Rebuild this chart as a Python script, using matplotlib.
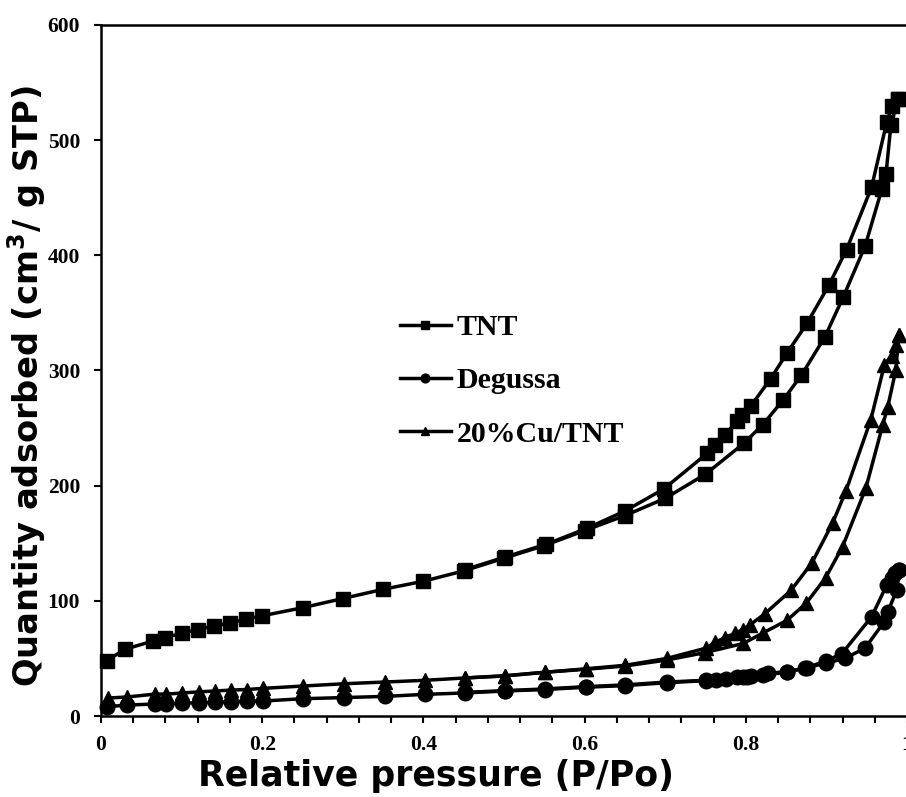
import matplotlib
matplotlib.use("Agg")
import matplotlib.pyplot as plt
from matplotlib.lines import Line2D
from matplotlib.ticker import MultipleLocator
from matplotlib.font_manager import FontProperties

# N2 adsorption-desorption isotherms
tnt_ads_p = [0.007, 0.03, 0.064, 0.08, 0.1, 0.12, 0.14, 0.16, 0.18, 0.2, 0.25, 0.3, 0.35,
             0.4, 0.45, 0.5, 0.55, 0.6, 0.65, 0.7, 0.75, 0.798, 0.821, 0.846, 0.869, 0.898,
             0.921, 0.948, 0.969, 0.974, 0.980, 0.989]
tnt_ads_q = [48, 58, 65, 68, 72, 75, 78, 81, 84, 87, 94, 102, 110, 117, 126, 137, 148, 161,
             174, 189, 210, 237, 253, 274, 296, 329, 364, 408, 458, 471, 513, 536]
tnt_des_p = [0.989, 0.982, 0.975, 0.956, 0.925, 0.903, 0.876, 0.851, 0.831, 0.806, 0.795,
             0.789, 0.774, 0.762, 0.752, 0.698, 0.65, 0.603, 0.552, 0.501, 0.451]
tnt_des_q = [536, 530, 516, 459, 405, 374, 341, 315, 293, 269, 261, 256, 244, 235, 228, 197,
             178, 163, 149, 138, 127]

deg_ads_p = [0.007, 0.032, 0.067, 0.081, 0.101, 0.122, 0.141, 0.161, 0.181, 0.201, 0.25,
             0.301, 0.352, 0.402, 0.451, 0.501, 0.551, 0.602, 0.65, 0.702, 0.751, 0.801,
             0.821, 0.851, 0.874, 0.9, 0.923, 0.948, 0.972, 0.976, 0.987, 0.99]
deg_ads_q = [8, 9.5, 10.4, 10.4, 11.3, 11.3, 12, 12.3, 13, 13, 15, 16, 17, 18.8, 20, 21.7,
             23, 25, 26.4, 28.9, 30.7, 34, 35.5, 38, 41.7, 46, 50, 59, 82, 90, 109, 127]
deg_des_p = [0.99, 0.985, 0.981, 0.975, 0.956, 0.919, 0.9, 0.876, 0.851, 0.827, 0.806,
             0.796, 0.789, 0.775, 0.763, 0.751, 0.702, 0.65, 0.602, 0.551, 0.501, 0.451]
deg_des_q = [127, 124, 120, 114, 86, 54, 48, 42, 38.5, 37, 35, 34, 33.5, 32, 31.5, 31,
             29.5, 27, 25.5, 23.5, 22, 20.5]

cu_ads_p = [0.009, 0.032, 0.067, 0.081, 0.101, 0.122, 0.141, 0.161, 0.181, 0.201, 0.25,
            0.301, 0.352, 0.402, 0.451, 0.501, 0.551, 0.602, 0.65, 0.702, 0.749, 0.797,
            0.821, 0.851, 0.875, 0.899, 0.920, 0.949, 0.970, 0.976, 0.986, 0.99]
cu_ads_q = [15.6, 16.5, 19, 19, 20, 21, 21.7, 22.5, 23, 24, 26, 28, 29.5, 31, 33, 34.7, 38,
            40.6, 43.4, 48.6, 55, 63, 72, 83, 98, 120, 147, 198, 253, 268, 300, 331]
cu_des_p = [0.99, 0.986, 0.981, 0.972, 0.955, 0.924, 0.908, 0.882, 0.856, 0.824, 0.805,
            0.796, 0.787, 0.774, 0.762, 0.751, 0.702, 0.65, 0.602, 0.551, 0.501, 0.451]
cu_des_q = [331, 322, 313, 305, 257, 195, 168, 133, 109, 89, 79, 75, 72, 68, 64, 59, 50,
            44, 41, 38, 35, 33]

labels = ["TNT", "Degussa", "20%Cu/TNT"]
markers = ["s", "o", "^"]
msizes = [10, 10.5, 9.5]

x_ticks = [0, 0.2, 0.4, 0.6, 0.8, 1.0]
x_ticklabels = ["0", "0.2", "0.4", "0.6", "0.8", "1"]
y_ticks = [0, 100, 200, 300, 400, 500, 600]
y_ticklabels = ["0", "100", "200", "300", "400", "500", "600"]

serif_bold = dict(family="Liberation Serif", weight="bold")

fig = plt.figure(figsize=(9.06, 7.97), dpi=100)
ax = fig.add_axes([101 / 906, 1 - 716 / 797, 806 / 906, (716 - 25) / 797])

series = [
    (tnt_ads_p, tnt_ads_q, tnt_des_p, tnt_des_q),
    (deg_ads_p, deg_ads_q, deg_des_p, deg_des_q),
    (cu_ads_p, cu_ads_q, cu_des_p, cu_des_q),
]
for (ap, aq, dp, dq), m, ms in zip(series, markers, msizes):
    for p, q in ((ap, aq), (dp, dq)):
        ax.plot(p, q, color="black", lw=2.5, marker=m, ms=ms,
                markeredgecolor="black", markerfacecolor="black", clip_on=False)

ax.set_xlim(0, 1)
ax.set_ylim(0, 600)
ax.xaxis.set_minor_locator(MultipleLocator(0.04))
ax.set_xticks(x_ticks)
ax.set_xticklabels(x_ticklabels)
ax.set_yticks(y_ticks)
ax.set_yticklabels(y_ticklabels)

ax.tick_params(axis="x", which="both", direction="out", length=5, width=1.5, pad=9)
ax.tick_params(axis="y", which="major", direction="out", length=5, width=1.5, pad=10)
for lab in ax.get_xticklabels() + ax.get_yticklabels():
    lab.set_fontproperties(FontProperties(**serif_bold, size=15.5))
for s in ax.spines.values():
    s.set_linewidth(1.8)

fig.text(436 / 906, 1 - 786 / 797, "Relative pressure (P/Po)", ha="center", va="baseline",
         family="DejaVu Sans", weight="bold", fontsize=25)
fig.text(27 / 906, 1 - 386 / 797, "Quantity adsorbed (cm$^\\mathbf{3}$/ g STP)",
         ha="center", va="center", rotation=90,
         family="DejaVu Sans", weight="bold", fontsize=24.3)

handles = [Line2D([0], [0], color="black", lw=2.5, marker=m, ms=ms * 0.6)
           for m, ms in zip(markers, msizes)]
fig.legend(handles, labels, loc="upper left", bbox_to_anchor=(400 / 906, 1 - 314 / 797),
           frameon=False, prop=FontProperties(**serif_bold, size=21.5),
           handlelength=1.7, handletextpad=0.2, labelspacing=0.88, borderpad=0,
           borderaxespad=0)

fig.savefig("out.png", dpi=100)
